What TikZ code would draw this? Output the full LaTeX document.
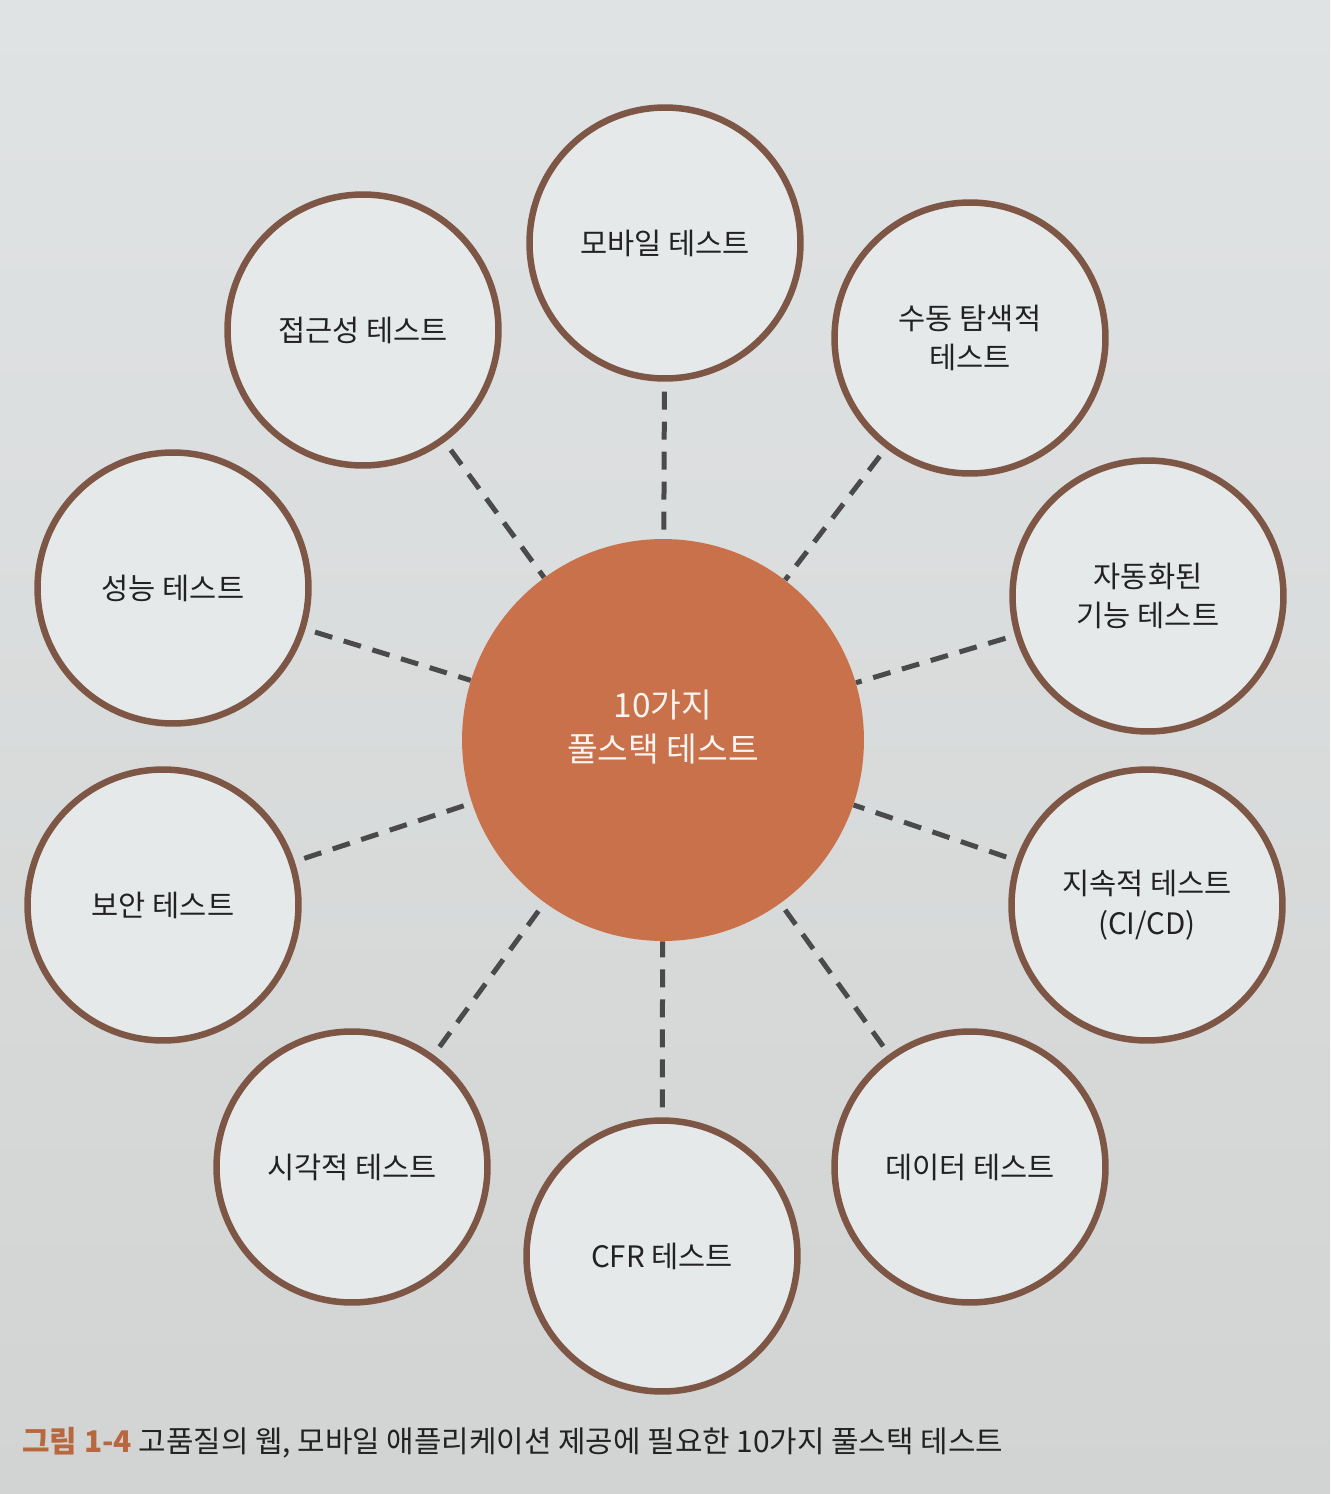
\documentclass[tikz,border=0pt]{standalone}
\usepackage{fontspec}
\setmainfont{Noto Sans CJK KR}
\definecolor{bgtop}{HTML}{E0E3E4}
\definecolor{bgbot}{HTML}{D2D4D3}
\definecolor{ringc}{HTML}{7D5646}
\definecolor{innerc}{HTML}{E6E9EA}
\definecolor{copper}{HTML}{C8714A}
\definecolor{dashc}{HTML}{4A4A4B}
\definecolor{txtc}{HTML}{222222}
\definecolor{capc}{HTML}{B8683F}
\begin{document}
\begin{tikzpicture}[x=0.02cm,y=-0.02cm,
  ring/.style={circle,draw=ringc,line width=0.13cm,fill=innerc,minimum size=5.42cm,inner sep=0pt,
    align=center,font=\fontsize{16.8}{22.5}\selectfont,text=txtc},
  hub/.style={circle,fill=copper,minimum size=8.04cm,inner sep=0pt},
  hubtext/.style={align=center,inner sep=0pt,font=\fontsize{19}{24.5}\selectfont,text=white!92!copper},
  link/.style={draw=dashc,line width=0.1cm,dash pattern=on 0.36cm off 0.24cm,shorten <=0.2cm}]
\shade[top color=bgtop,bottom color=bgbot] (0,0) rectangle (1330,1494);
\useasboundingbox (0,0) rectangle (1330,1494);
\node[hub] (c) at (663,740) {};
\node[hubtext] (ct) at (663,727) {10가지\\풀스택 테스트};
\node[ring] (m) at (665,243) {모바일 테스트};
\node[ring] (s) at (970,338) {수동 탐색적\\테스트};
\node[ring] (a) at (1148,596) {자동화된\\기능 테스트};
\node[ring] (ci) at (1147,905) {지속적 테스트\\(CI/CD)};
\node[ring] (d) at (970,1167) {데이터 테스트};
\node[ring] (cfr) at (662,1256) {CFR 테스트};
\node[ring] (v) at (352,1167) {시각적 테스트};
\node[ring] (sec) at (163,905) {보안 테스트};
\node[ring] (p) at (173,588) {성능 테스트};
\node[ring] (acc) at (363,330) {접근성 테스트};
\foreach \n in {m,s,a,ci,d,cfr,v,sec,p,acc}{
  \path[link] (\n) -- (c);
}
\node[anchor=west,inner sep=0pt,font=\fontsize{17}{20}\selectfont,text=txtc] (cap) at (22,1443)
  {\textcolor{capc}{\bfseries 그림 1-4} 고품질의 웹, 모바일 애플리케이션 제공에 필요한 10가지 풀스택 테스트};
\end{tikzpicture}
\end{document}
